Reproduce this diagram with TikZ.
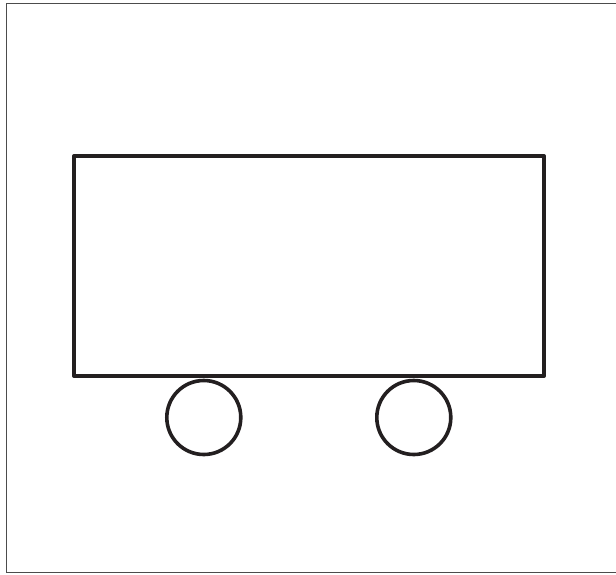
\documentclass[tikz,border=0pt]{standalone}
\begin{document}
\begin{tikzpicture}[x=1pt,y=-1pt,
  frameline/.style={draw=black!70,line width=1.3pt},
  cartline/.style={draw=cartblack,line width=4pt,line join=round},
  wheelline/.style={draw=cartblack,line width=3.6pt}]
\definecolor{cartblack}{HTML}{231F20}
\useasboundingbox (0,0) rectangle (616,574);
\fill[white] (0,0) rectangle (616,574);
% outer frame (right edge outside the picture)
\draw[frameline] (625,3.7) -- (6.5,3.7) -- (6.5,572.5) -- (625,572.5);
% cart body
\node[cartline,rectangle,minimum width=470pt,minimum height=220pt,inner sep=0pt] (body) at (309,266) {};
% wheels
\node[wheelline,circle,minimum size=74pt,inner sep=0pt] (wheelA) at (203.8,417.5) {};
\node[wheelline,circle,minimum size=74pt,inner sep=0pt] (wheelB) at (413.8,417.5) {};
\end{tikzpicture}
\end{document}
